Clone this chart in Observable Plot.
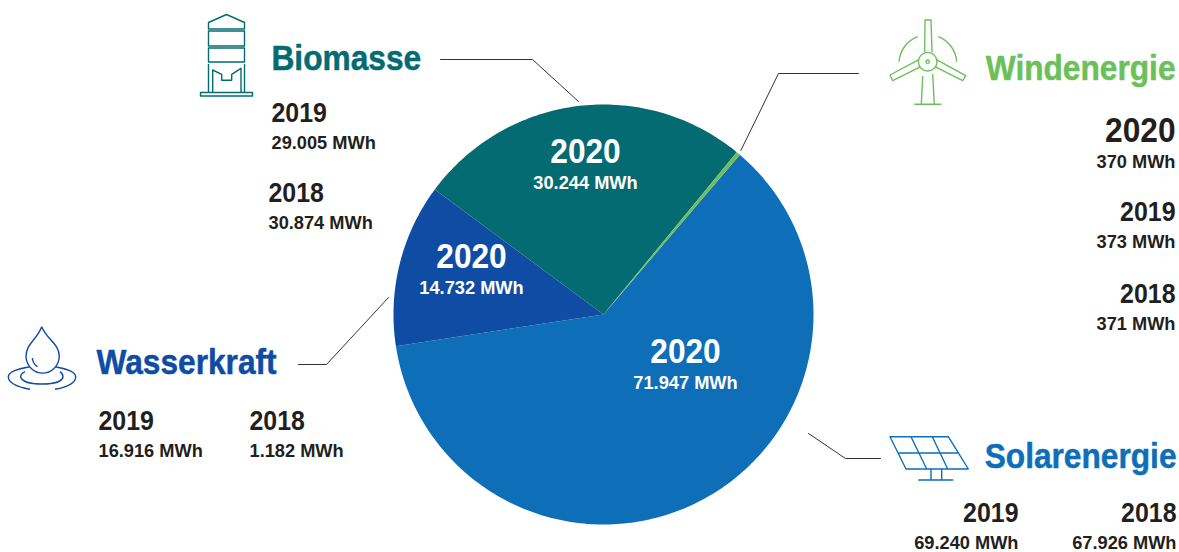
<!DOCTYPE html>
<html lang="de">
<head>
<meta charset="utf-8">
<title>Erneuerbare Energien</title>
<script src="https://cdn.jsdelivr.net/npm/d3@7"></script>
<script src="https://cdn.jsdelivr.net/npm/@observablehq/plot@0.6"></script>
<style>
  html, body { margin: 0; padding: 0; background: #fff; }
  svg { display: block; }
</style>
</head>
<body>
<div id="chart"></div>
<script>
// Erzeugung je Energieträger in MWh, Reihenfolge der Jahre wie in "years".
const years = [2020, 2019, 2018];
const solarenergie = [71947, 69240, 67926];
const wasserkraft = [14732, 16916, 1182];
const biomasse = [30244, 29005, 30874];
const windenergie = [370, 373, 371];

const sources = ["Solarenergie", "Wasserkraft", "Biomasse", "Windenergie"];
const seriesBySource = {Solarenergie: solarenergie, Wasserkraft: wasserkraft, Biomasse: biomasse, Windenergie: windenergie};

const colors = {Solarenergie: "#0e6fb8", Wasserkraft: "#0f4ca3", Biomasse: "#056b72", Windenergie: "#6cc05a"};
const ink = "#231f20";
const font = "'Liberation Sans', Arial, sans-serif";

// Kreismitte und Radius in Pixeln der Zeichenfläche
const cx = 603, cy = 314, radius = 210;
const rad = Math.PI / 180;

// Kreissektoren aus den Werten für 2020
const pie = d3.pie().sort(null).startAngle(40.5 * rad).endAngle((40.5 + 360) * rad);
const arcs = pie(sources.map((s) => seriesBySource[s][0]));
const polar = (a, r) => [cx + r * Math.sin(a), cy - r * Math.cos(a)];

const sliceRows = arcs.flatMap((arc, i) => {
  const steps = Math.max(2, Math.ceil((arc.endAngle - arc.startAngle) / rad));
  const outline = d3.range(steps + 1).map((k) => polar(arc.startAngle + (arc.endAngle - arc.startAngle) * k / steps, radius));
  return [[cx, cy], ...outline].map(([x, y]) => ({source: sources[i], x, y}));
});

// Position jeder Beschriftung: [x, y, Ausrichtung]
const placement = {
  Biomasse: {2020: [585, 151, "middle"], 2019: [271, 113, "start"], 2018: [268, 193, "start"]},
  Windenergie: {2020: [1175, 130, "end"], 2019: [1175, 212, "end"], 2018: [1175, 294, "end"]},
  Wasserkraft: {2020: [471, 256, "middle"], 2019: [98, 421, "start"], 2018: [249, 421, "start"]},
  Solarenergie: {2020: [685, 351, "middle"], 2019: [1018, 513, "end"], 2018: [1176, 513, "end"]}
};
const headingPlacement = {
  Biomasse: [271, 58, "start"],
  Windenergie: [1175, 68, "end"],
  Wasserkraft: [96, 362, "start"],
  Solarenergie: [1176, 456, "end"]
};

const de = d3.formatLocale({decimal: ",", thousands: ".", grouping: [3], currency: ["", " €"]});
const mwh = (v) => `${de.format(",")(v)} MWh`;

const labelRows = sources.flatMap((source) => years.map((year, i) => {
  const [x, y, anchor] = placement[source][year];
  return {
    source, year, x, y, anchor,
    inside: anchor === "middle",
    big: year === 2020,
    value: mwh(seriesBySource[source][i]),
    valueY: y + (year === 2020 ? 31 : 29)
  };
}));
const headingRows = sources.map((source) => {
  const [x, y, anchor] = headingPlacement[source];
  return {source, x, y, anchor};
});

// Führungslinien von den Überschriften zu den Sektoren
const windAngle = (arcs[3].startAngle + arcs[3].endAngle) / 2;
const [windX, windY] = polar(windAngle, radius + 4);
const leaders = [
  {source: "Biomasse", points: [[440, 59], [532, 59], [578, 101]]},
  {source: "Windenergie", points: [[858, 73], [778, 73], [windX, windY]]},
  {source: "Wasserkraft", points: [[298, 364], [326, 364], [388, 297]]},
  {source: "Solarenergie", points: [[808, 433], [845, 458], [880, 458]]}
].flatMap(({source, points}) => points.map(([x, y]) => ({source, x, y})));

// Symbole als Pfade in Pixeln der Zeichenfläche
const icons = {
  Biomasse: "M208.5 29V22.5L226.5 14.5L244.5 22.5V29ZM208.5 31H244.5V46H208.5ZM208.5 48H244.5V62H208.5ZM208.5 64V92M244.5 64V92M200.5 92.5H252.5V96H200.5ZM212.7 92V70L221.7 74.3V80.3H231.7V74.3L241 68.3V92",
  Windenergie: "M924.7 52L925 20H931L932 52M919.3 59.3L890 75L892.7 80.7L920.7 66.7M936 59.3L965.7 75.7L962.7 80.7L935 66.7M918.4 61.7A9.3 9.3 0 1 0 937 61.7A9.3 9.3 0 1 0 918.4 61.7M926 61.7A1.7 1.7 0 1 0 929.4 61.7A1.7 1.7 0 1 0 926 61.7M922.7 76L921.3 104.3M932.7 74L934.3 104.3M914.3 104.3H941.3M899 61.7A29 29 0 0 1 917.7 36.7M938.3 36.7A29 29 0 0 1 956.7 61.7",
  Wasserkraft: "M41.7 326.7C37 340 26 343 26 357A16.7 17.5 0 0 0 59.3 357C59.3 343 47 340 41.7 326.7M32.3 358Q33 364 37.5 366.7M30 366.7C16 369 8.3 372 8.3 376.7C8.3 383 18 387 30 389.3M55 366.7C68 369 75.7 372 75.7 376.7C75.7 383 67 387 55 389.3M25 371.7C22 373 20.7 375 20.7 377C22 382 32 384 42 384C52 384 62 382 63 377C63 375 62 373 60 371.7",
  Solarenergie: "M890 436.7H948.3L968.3 469H906ZM898.3 453H959.3M911 436.7L926.7 469M932.3 436.7L947.7 469M931 469V480M941.7 469V480M918.3 480H953.3"
};

// Eigenes Mark für die Symbole, eingefärbt wie der jeweilige Sektor
function iconMark(index, scales, values, dimensions, context) {
  const g = d3.select(context.document.createElementNS("http://www.w3.org/2000/svg", "g"));
  for (const source of sources) {
    g.append("path")
      .attr("d", icons[source])
      .attr("fill", "none")
      .attr("stroke", colors[source])
      .attr("stroke-width", 1.4)
      .attr("stroke-linejoin", "round");
  }
  return g.node();
}

// Schmale Schrift: Beschriftungen waagerecht stauchen
const condensed = (factor) => (index, scales, values, dimensions, context, next) => {
  const g = next(index, scales, values, dimensions, context);
  g.querySelectorAll("text").forEach((t) => {
    t.setAttribute("transform", `${t.getAttribute("transform") || ""} scale(${factor},1)`);
  });
  return g;
};

const colorOf = (d) => colors[d.source];
const labelFill = (d) => d.inside ? "#fff" : ink;
const anchors = ["start", "middle", "end"];

const plot = Plot.plot({
  width: 1179,
  height: 552,
  margin: 0,
  x: {domain: [0, 1179], range: [0, 1179], axis: null},
  y: {domain: [0, 552], range: [0, 552], axis: null},
  style: {background: "#fff", fontFamily: font},
  marks: [
    Plot.line(sliceRows, {x: "x", y: "y", z: "source", fill: colorOf, stroke: null, curve: "linear-closed"}),
    Plot.line(leaders, {x: "x", y: "y", z: "source", stroke: "#333", strokeWidth: 1}),
    iconMark,
    anchors.map((anchor) => [
      Plot.text(headingRows.filter((d) => d.anchor === anchor), {
        x: "x", y: "y", text: "source", textAnchor: anchor, fill: colorOf,
        stroke: colorOf, strokeWidth: 0.5,
        fontSize: 36, fontWeight: 700, fontFamily: font, lineAnchor: "middle",
        render: condensed(0.88)
      }),
      Plot.text(labelRows.filter((d) => d.anchor === anchor && !d.big), {
        x: "x", y: "y", text: (d) => String(d.year), textAnchor: anchor, fill: labelFill,
        fontSize: 28, fontWeight: 700, fontFamily: font, lineAnchor: "middle",
        render: condensed(0.89)
      }),
      Plot.text(labelRows.filter((d) => d.anchor === anchor && d.big), {
        x: "x", y: "y", text: (d) => String(d.year), textAnchor: anchor, fill: labelFill,
        fontSize: 36, fontWeight: 700, fontFamily: font, lineAnchor: "middle",
        render: condensed(0.88)
      }),
      Plot.text(labelRows.filter((d) => d.anchor === anchor), {
        x: "x", y: "valueY", text: "value", textAnchor: anchor, fill: labelFill,
        fontSize: 19, fontWeight: 700, fontFamily: font, lineAnchor: "middle",
        render: condensed(0.96)
      })
    ])
  ]
});

document.getElementById("chart").append(plot);
</script>
</body>
</html>
